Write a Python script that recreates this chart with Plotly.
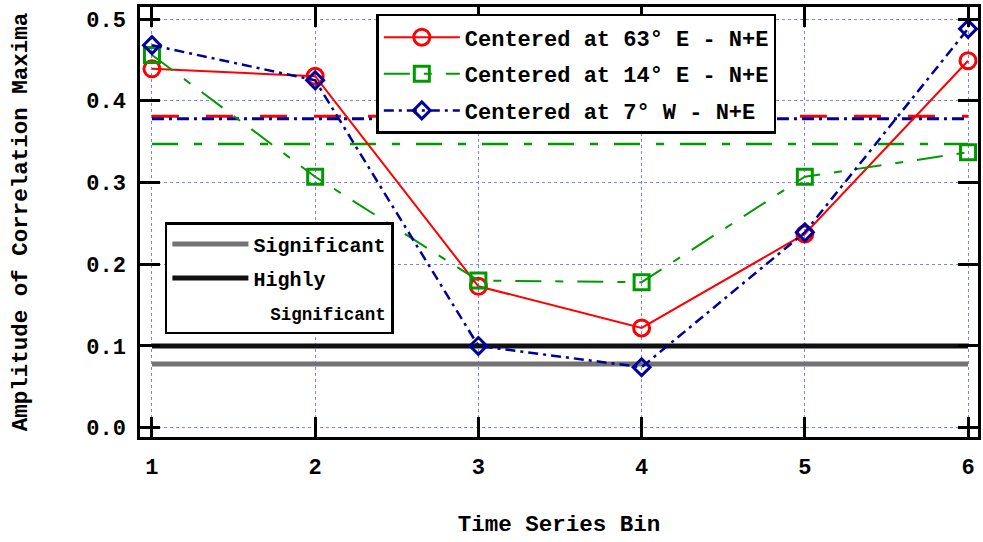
import plotly.graph_objects as go

# ---- data ----
bins = [1, 2, 3, 4, 5, 6]
east63 = [0.439, 0.430, 0.173, 0.122, 0.237, 0.449]
east14 = [0.456, 0.307, 0.180, 0.178, 0.307, 0.337]
west7 = [0.468, 0.425, 0.100, 0.074, 0.239, 0.488]
mean63 = 0.381
mean14 = 0.347
mean7 = 0.378
significant = 0.078
highly_significant = 0.100
x_ticks = [1, 2, 3, 4, 5, 6]
y_ticks = [0.0, 0.1, 0.2, 0.3, 0.4, 0.5]
y_tick_text = ["0.0", "0.1", "0.2", "0.3", "0.4", "0.5"]

RED = "#ff0000"
GREEN = "#009900"
BLUE = "#00009a"
FONT = "Liberation Mono, Courier New, monospace"

fig = go.Figure()

span = [bins[0], bins[-1]]

# significance levels (second legend)
fig.add_trace(go.Scatter(x=span, y=[significant] * 2, mode="lines",
                         line=dict(color="#737373", width=5),
                         name="Significant", legend="legend2", legendgroup="s1"))
fig.add_trace(go.Scatter(x=span, y=[highly_significant] * 2, mode="lines",
                         line=dict(color="#111111", width=5),
                         name="Highly", legend="legend2", legendgroup="s2"))
# continuation line of the "Highly Significant" legend label (no mark)
fig.add_trace(go.Scatter(x=[None], y=[None], mode="lines",
                         line=dict(color="rgba(0,0,0,0)", width=0),
                         name=("<span style='font-size:20px'>\u00a0</span>"
                               "<span style='font-size:8px'>\u00a0</span>"
                               "<span style='font-size:17.5px'>Significant</span>"),
                         legend="legend2", legendgroup="s3", hoverinfo="skip"))

# mean levels
fig.add_trace(go.Scatter(x=span, y=[mean14] * 2, mode="lines", showlegend=False,
                         line=dict(color=GREEN, width=2.5, dash="26px,16px,8px,16px")))
fig.add_trace(go.Scatter(x=span, y=[mean63] * 2, mode="lines", showlegend=False,
                         line=dict(color=RED, width=3, dash="27px,27px")))
fig.add_trace(go.Scatter(x=span, y=[mean7] * 2, mode="lines", showlegend=False,
                         line=dict(color=BLUE, width=3, dash="12px,5px,3px,5px")))

# data series
fig.add_trace(go.Scatter(x=bins, y=east63, mode="lines+markers",
                         name="Centered at 63\u00b0 E - N+E", legendgroup="a",
                         line=dict(color=RED, width=2),
                         marker=dict(symbol="circle-open", size=16, color=RED,
                                     line=dict(width=3, color=RED))))
fig.add_trace(go.Scatter(x=bins, y=east14, mode="lines+markers",
                         name="Centered at 14\u00b0 E - N+E", legendgroup="b",
                         line=dict(color=GREEN, width=2, dash="26px,14px,8px,14px"),
                         marker=dict(symbol="square-open", size=15, color=GREEN,
                                     line=dict(width=3, color=GREEN))))
fig.add_trace(go.Scatter(x=bins, y=west7, mode="lines+markers",
                         name="Centered at 7\u00b0 W - N+E", legendgroup="c",
                         line=dict(color=BLUE, width=2.5, dash="10px,5px,3px,5px"),
                         marker=dict(symbol="diamond-open", size=13, color=BLUE,
                                     line=dict(width=3, color=BLUE))))

axis_common = dict(
    showline=True, linecolor="black", linewidth=2.5, mirror="ticks",
    ticks="inside", ticklen=20, tickwidth=2.5, tickcolor="black",
    showgrid=True, gridcolor="#8080ff", gridwidth=1, griddash="dot",
    zeroline=False,
    tickfont=dict(family=FONT, size=22, color="black", weight="bold"),
)

fig.update_layout(
    width=983, height=542,
    margin=dict(l=140, r=2, t=7, b=105),
    paper_bgcolor="white", plot_bgcolor="white",
    font=dict(family=FONT, color="black"),
    xaxis=dict(range=[0.9267, 6.061], tickvals=x_ticks,
               ticktext=[str(v) for v in x_ticks],
               ticklabelstandoff=8,
               title=dict(text="Time Series Bin", standoff=36,
                          font=dict(family=FONT, size=22.5, weight="bold")),
               **axis_common),
    yaxis=dict(range=[-0.0114, 0.5147], tickvals=y_ticks, ticktext=y_tick_text,
               ticklabelstandoff=7,
               title=dict(text="Amplitude of Correlation Maxima", standoff=53,
                          font=dict(family=FONT, size=22.5, weight="bold")),
               **axis_common),
    showlegend=True,
    legend=dict(x=0.282, y=0.984, xanchor="left", yanchor="top",
                bgcolor="white", bordercolor="black", borderwidth=2.5,
                font=dict(family=FONT, size=22, color="black", weight="bold"),
                itemwidth=76, tracegroupgap=5, traceorder="grouped"),
    legend2=dict(x=0.0297, y=0.5, xanchor="left", yanchor="top",
                 bgcolor="white", bordercolor="black", borderwidth=2.5,
                 font=dict(family=FONT, size=20, color="black", weight="bold"),
                 itemwidth=76, tracegroupgap=5, traceorder="grouped"),
)

fig.write_html("out.html", config={"displayModeBar": False})

# remove the default page margin so the figure sits at the window's corner
with open("out.html", encoding="utf-8") as fh:
    html = fh.read()
html = html.replace("<head>", "<head><style>html,body{margin:0;padding:0;overflow:hidden}</style>", 1)
with open("out.html", "w", encoding="utf-8") as fh:
    fh.write(html)
